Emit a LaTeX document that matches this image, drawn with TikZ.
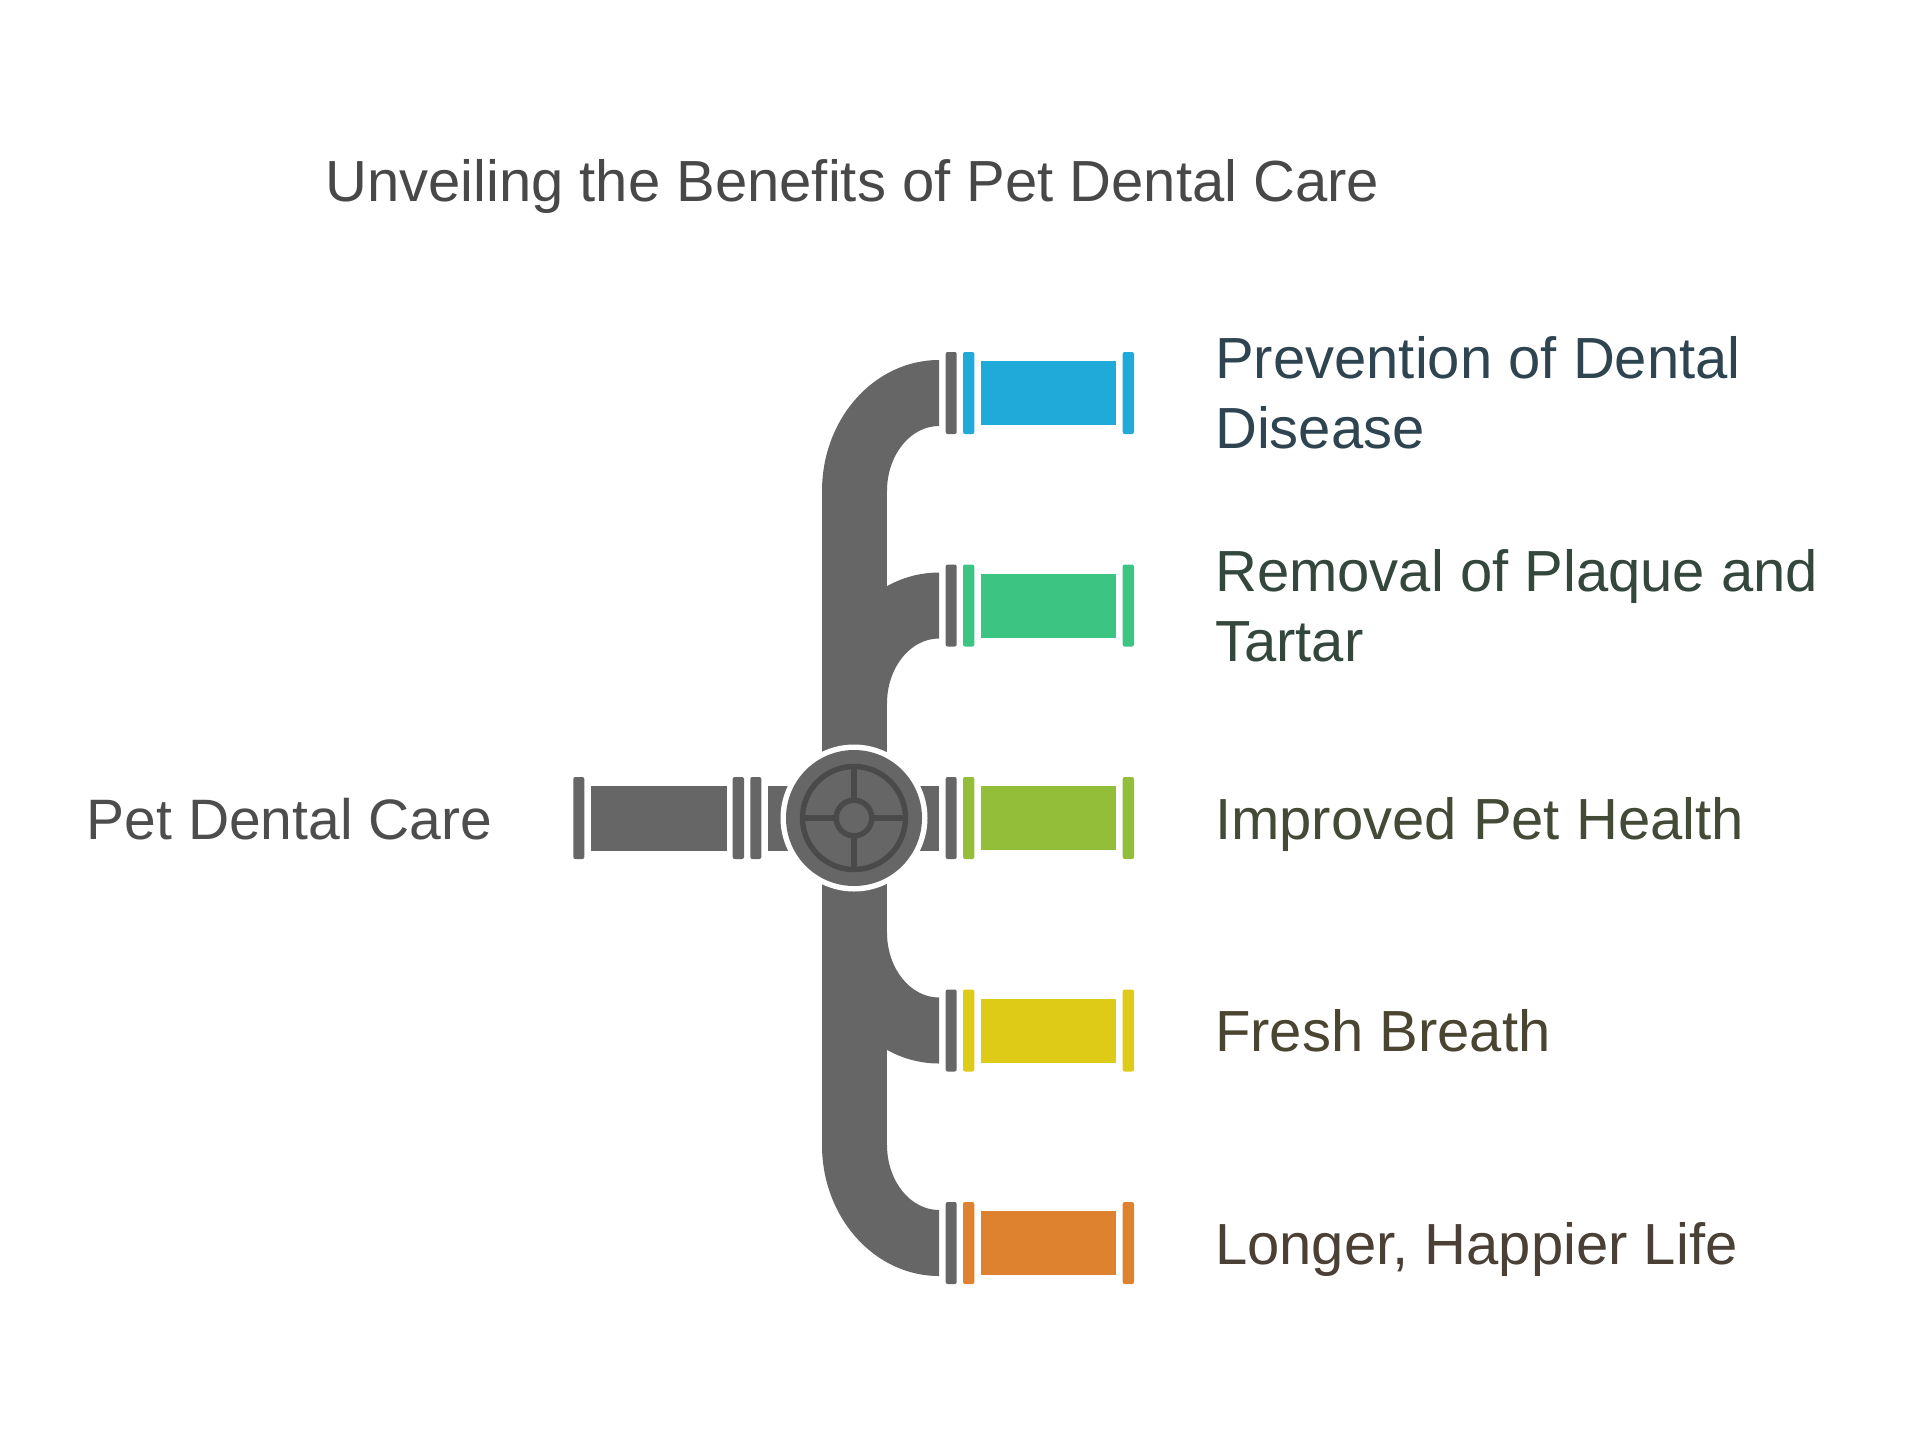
\documentclass[tikz,border=0pt]{standalone}
\usepackage{fontspec}
\setmainfont{Liberation Sans}
\definecolor{pipegray}{HTML}{666666}
\definecolor{hubdark}{HTML}{4A4A4A}
\definecolor{cblue}{HTML}{1FAAD9}
\definecolor{cgreen}{HTML}{3CC482}
\definecolor{clime}{HTML}{92BE3A}
\definecolor{cyellow}{HTML}{DECB17}
\definecolor{corange}{HTML}{DE8230}
\definecolor{tTitle}{HTML}{484848}
\definecolor{tLeft}{HTML}{4D4D4D}
\definecolor{tOne}{HTML}{2E4450}
\definecolor{tTwo}{HTML}{34473C}
\definecolor{tThree}{HTML}{434A36}
\definecolor{tFour}{HTML}{4A4531}
\definecolor{tFive}{HTML}{4A4035}
\begin{document}
\begin{tikzpicture}[x=1pt,y=-1pt,
  lbl/.style={inner sep=0pt, font=\fontsize{58}{70}\selectfont},
  pipefill/.style={fill=pipegray},
  flange/.style={rounded corners=2pt},
  hubring/.style={draw=hubdark, line width=5.5pt},
]
\fill[white] (0,0) rectangle (1920,1433);
\useasboundingbox (0,0) rectangle (1920,1433);

% ---- vertical trunk
\fill[pipefill] (822,491) rectangle (887,1145);
% ---- elbows turning down (rows 393 and 605.5)
\foreach \y in {393,605.5}{
  \fill[pipefill] (939,{\y-33}) .. controls (874.4,{\y-33}) and (822,{\y+25.6}) .. (822,{\y+98})
    -- (887,{\y+98}) .. controls (887,{\y+62.1}) and (910.3,{\y+33}) .. (939,{\y+33}) -- cycle;
}
% ---- elbows turning up (rows 1030.5 and 1243)
\foreach \y in {1030.5,1243}{
  \fill[pipefill] (939,{\y+33}) .. controls (874.4,{\y+33}) and (822,{\y-25.6}) .. (822,{\y-98})
    -- (887,{\y-98}) .. controls (887,{\y-62.1}) and (910.3,{\y-33}) .. (939,{\y-33}) -- cycle;
}
% ---- horizontal pipe through hub
\fill[pipefill] (768,785.5) rectangle (939,850.5);
% ---- left input segment
\fill[pipefill, flange] (573.3,777) rectangle (584.3,859);
\fill[pipefill] (590.7,785.7) rectangle (726.7,850.7);
\fill[pipefill, flange] (732.7,777) rectangle (744,859);
\fill[pipefill, flange] (750.3,777) rectangle (761.3,859);

% ---- output segments
\foreach \y/\c in {393/cblue,605.5/cgreen,818/clime,1030.5/cyellow,1243/corange}{
  \fill[pipegray, flange] (945.7,{\y-41}) rectangle (956.7,{\y+41});
  \fill[\c, flange] (963,{\y-41}) rectangle (974.3,{\y+41});
  \fill[\c] (980.7,{\y-32}) rectangle (1116.3,{\y+32});
  \fill[\c, flange] (1122.7,{\y-41}) rectangle (1134,{\y+41});
}

% ---- hub
\fill[white] (854,818) circle[radius=73.5];
\fill[pipegray] (854,818) circle[radius=68];
\draw[hubring] (854,818) circle[radius=51.5];
\draw[hubring] (854,818) circle[radius=17.8];
\draw[hubring] (854,{818-17.8}) -- (854,{818-51.5});
\draw[hubring] (854,{818+17.8}) -- (854,{818+51.5});
\draw[hubring] ({854-17.8},818) -- ({854-51.5},818);
\draw[hubring] ({854+17.8},818) -- ({854+51.5},818);

% ---- texts
\node[lbl, anchor=base west, text=tTitle] (title) at (325,201) {Unveiling the Benefits of Pet Dental Care};
\node[lbl, anchor=base west, text=tLeft, font=\fontsize{57}{70}\selectfont] (src) at (86.5,839) {Pet Dental Care};
\node[lbl, anchor=north west, align=left, text=tOne] (b1) at (1215,336) {Prevention of Dental\\Disease};
\node[lbl, anchor=north west, align=left, text=tTwo] (b2) at (1215,549) {Removal of Plaque and\\Tartar};
\node[lbl, anchor=base west, text=tThree] (b3) at (1215,839) {Improved Pet Health};
\node[lbl, anchor=base west, text=tFour] (b4) at (1215,1051.5) {Fresh Breath};
\node[lbl, anchor=base west, text=tFive] (b5) at (1215,1264) {Longer, Happier Life};
\end{tikzpicture}
\end{document}
